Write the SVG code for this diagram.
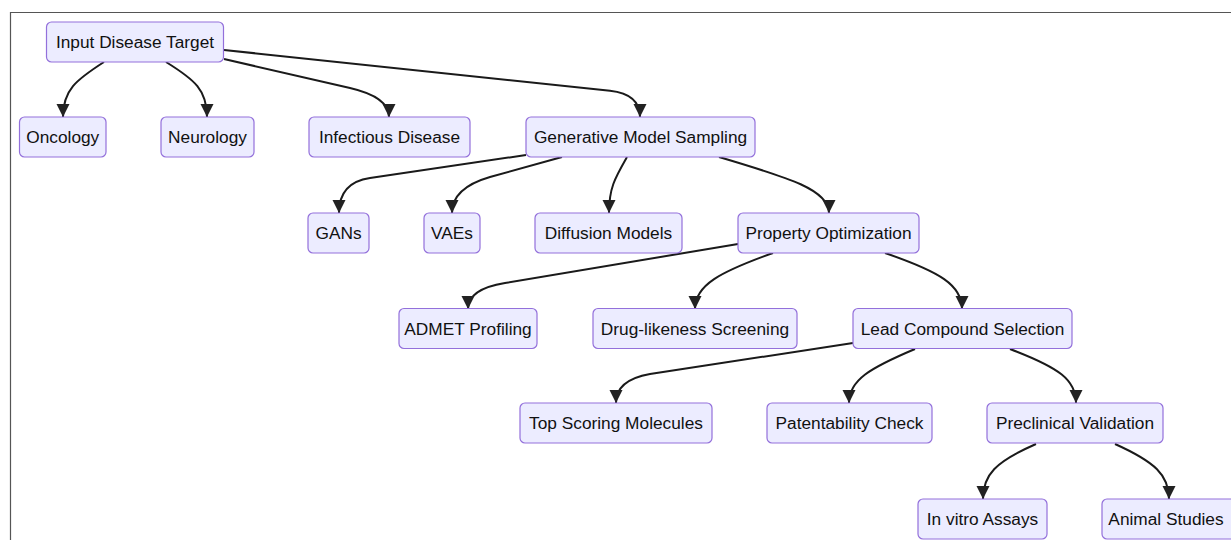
<svg xmlns="http://www.w3.org/2000/svg" width="1231" height="540" viewBox="0 0 1231 540">
<style>
.node rect{fill:#ECECFF;stroke:#9370DB;stroke-width:1.2}
.node text{font-family:"Liberation Sans",Arial,sans-serif;font-size:17.3px;fill:#111;text-anchor:middle;dominant-baseline:central}
.edges path{fill:none;stroke:#1a1a1a;stroke-width:2;marker-end:url(#arrow)}
</style>
<defs>
<marker id="arrow" viewBox="0 0 10 10" refX="10" refY="5" markerUnits="userSpaceOnUse" markerWidth="13" markerHeight="14" orient="auto">
<path d="M0,0 L10,5 L0,10 z" fill="#222"/>
</marker>
</defs>
<rect width="1231" height="540" fill="#fff"/>
<path d="M10.5,540 V12.5 H1231" fill="none" stroke="#555" stroke-width="1.2"/>
<g class="edges">
<path d="M104,62 C76,80 63,90 63,117"/>
<path d="M166,62 C195,80 207,90 207,117"/>
<path d="M224,59 L350,88 Q389,97 389,117"/>
<path d="M224,50 L610,90.7 Q640,94 640,117"/>
<path d="M526,155 L370,178 Q339,182.5 339,213"/>
<path d="M562,157 L490,177 Q452,188 452,213"/>
<path d="M627,157 C615,178 609,188 609,213"/>
<path d="M719,157 C790,178 829,190 829,213"/>
<path d="M738,244 L505,283 Q468,289 468,309"/>
<path d="M773,253 C720,272 695,285 695,309"/>
<path d="M885,253 C940,272 962,285 962,309"/>
<path d="M853,343 L650,374 Q616,380 616,403"/>
<path d="M915,349 C870,368 849,380 849,403"/>
<path d="M1010,349 C1060,368 1076,380 1076,403"/>
<path d="M1036,444 C995,462 983,475 983,499"/>
<path d="M1115,444 C1155,462 1169,475 1169,499"/>
</g>
<g id="input" class="node"><rect x="46.5" y="22" width="177" height="40" rx="5"/><text x="135" y="42">Input Disease Target</text></g>
<g id="oncology" class="node"><rect x="19.5" y="117" width="86.5" height="40" rx="5"/><text x="62.75" y="137">Oncology</text></g>
<g id="neurology" class="node"><rect x="161" y="117" width="93" height="40" rx="5"/><text x="207.5" y="137">Neurology</text></g>
<g id="infectious" class="node"><rect x="309" y="117" width="161" height="40" rx="5"/><text x="389.5" y="137">Infectious Disease</text></g>
<g id="generative" class="node"><rect x="526" y="117" width="229" height="40" rx="5"/><text x="640.5" y="137">Generative Model Sampling</text></g>
<g id="gans" class="node"><rect x="308" y="213" width="61" height="40" rx="5"/><text x="338.5" y="233">GANs</text></g>
<g id="vaes" class="node"><rect x="424" y="213" width="56" height="40" rx="5"/><text x="452" y="233">VAEs</text></g>
<g id="diffusion" class="node"><rect x="535" y="213" width="147" height="40" rx="5"/><text x="608.5" y="233">Diffusion Models</text></g>
<g id="property" class="node"><rect x="738" y="213" width="181" height="40" rx="5"/><text x="828.5" y="233">Property Optimization</text></g>
<g id="admet" class="node"><rect x="399" y="308.5" width="138" height="40" rx="5"/><text x="468" y="328.5">ADMET Profiling</text></g>
<g id="druglike" class="node"><rect x="593" y="308.5" width="204" height="40" rx="5"/><text x="695" y="328.5">Drug-likeness Screening</text></g>
<g id="lead" class="node"><rect x="853" y="308.5" width="219" height="40" rx="5"/><text x="962.5" y="328.5">Lead Compound Selection</text></g>
<g id="topscoring" class="node"><rect x="520" y="403" width="192" height="40" rx="5"/><text x="616" y="423">Top Scoring Molecules</text></g>
<g id="patent" class="node"><rect x="767" y="403" width="165" height="40" rx="5"/><text x="849.5" y="423">Patentability Check</text></g>
<g id="preclinical" class="node"><rect x="987" y="403" width="176" height="40" rx="5"/><text x="1075" y="423">Preclinical Validation</text></g>
<g id="invitro" class="node"><rect x="918" y="499" width="129" height="40" rx="5"/><text x="982.5" y="519">In vitro Assays</text></g>
<g id="animal" class="node"><rect x="1102" y="499" width="143" height="40" rx="5"/><text x="1166" y="519">Animal Studies</text></g>
</svg>
